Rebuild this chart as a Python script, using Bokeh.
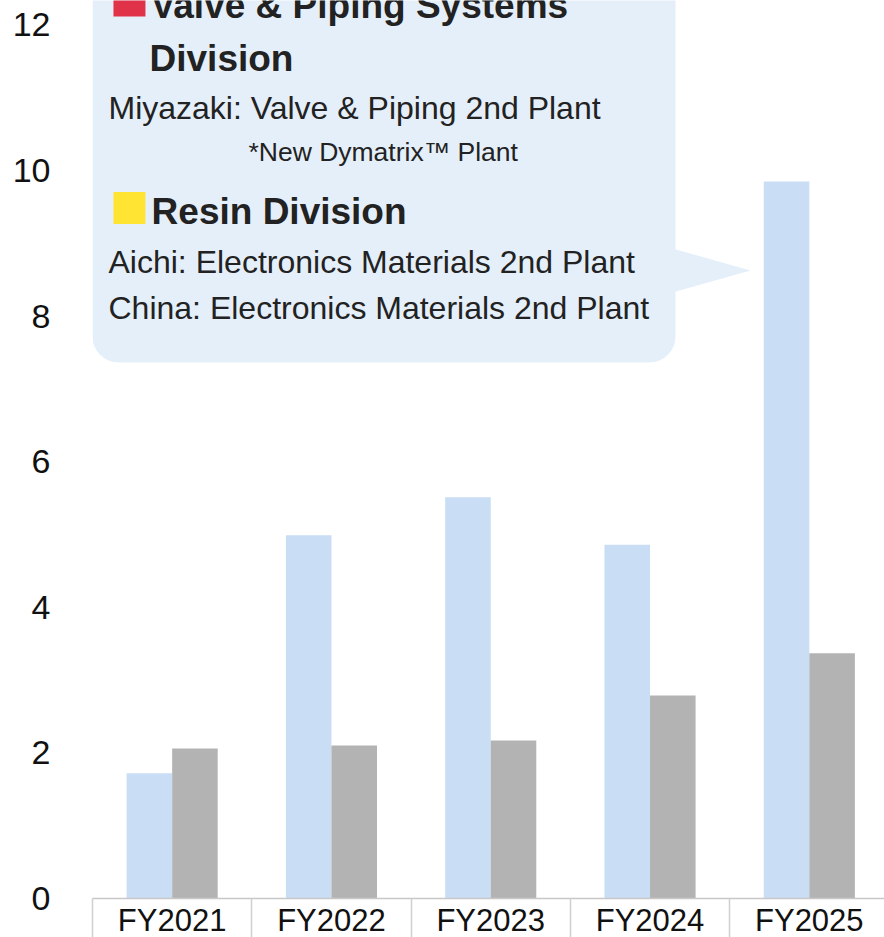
from bokeh.plotting import figure
from bokeh.models import ColumnDataSource, FixedTicker, BoxAnnotation, Label, Range1d
from bokeh.transform import dodge
from bokeh.embed import file_html
from bokeh.resources import INLINE

# Fiscal years and the two bar series (billion yen)
fiscal_years = ["FY2021", "FY2022", "FY2023", "FY2024", "FY2025"]
capital_investment = [1.72, 4.99, 5.51, 4.86, 9.85]
depreciation = [2.06, 2.10, 2.17, 2.79, 3.37]
y_ticks = [0, 2, 4, 6, 8, 10, 12]

FONT = "Liberation Sans"
TEXT = "#222222"
BLUE = "#c9ddf5"
GRAY = "#b3b3b3"
CALLOUT = "#e5effa"

x_centers = [i + 0.5 for i in range(len(fiscal_years))]
src = ColumnDataSource(dict(x=x_centers, year=fiscal_years,
                            invest=capital_investment, dep=depreciation))

p = figure(frame_width=792, frame_height=898,
           x_range=Range1d(0, 4.972), y_range=Range1d(0, 12.335),
           output_backend="svg", toolbar_location=None,
           min_border_left=92, min_border_right=0,
           min_border_top=0, min_border_bottom=39)
p.outline_line_color = None
p.grid.visible = False
p.background_fill_color = "white"
p.border_fill_color = "white"

# bars
p.vbar(x=dodge("x", -0.143), top="invest", width=0.286, source=src,
       fill_color=BLUE, line_color=None)
p.vbar(x=dodge("x", 0.143), top="dep", width=0.286, source=src,
       fill_color=GRAY, line_color=None)

# y axis: labels only
p.yaxis.ticker = FixedTicker(ticks=y_ticks)
p.yaxis.axis_line_color = None
p.yaxis.major_tick_line_color = None
p.yaxis.minor_tick_line_color = None
p.yaxis.major_tick_out = 0
p.yaxis.major_label_standoff = 42
p.yaxis.major_label_text_font = FONT
p.yaxis.major_label_text_font_size = "34px"
p.yaxis.major_label_text_color = "#111111"

# x axis: labels centred in each slot, separators at slot boundaries
p.xaxis.ticker = FixedTicker(ticks=x_centers,
                             minor_ticks=list(range(len(fiscal_years) + 1)))
p.xaxis.major_label_overrides = {x: y for x, y in zip(x_centers, fiscal_years)}
p.xaxis.axis_line_color = "#c8c8c8"
p.xaxis.axis_line_width = 1.5
p.xaxis.major_tick_line_color = None
p.xaxis.major_tick_out = 0
p.xaxis.major_tick_in = 0
p.xaxis.minor_tick_line_color = "#d0d0d0"
p.xaxis.minor_tick_line_width = 1.5
p.xaxis.minor_tick_out = 39
p.xaxis.minor_tick_in = 0
p.xaxis.major_label_standoff = -35
p.xaxis.major_label_text_font = FONT
p.xaxis.major_label_text_font_size = "31px"
p.xaxis.major_label_text_color = "#111111"

# callout bubble
box = BoxAnnotation(left=0, right=3.66, bottom=7.363, top=14.5,
                    fill_color=CALLOUT, fill_alpha=1.0, line_color=None,
                    border_radius=26, level="underlay")
p.add_layout(box)
p.patch(x=[3.64, 4.131, 3.64], y=[8.929, 8.626, 8.324],
        fill_color=CALLOUT, line_color=None)

# division colour keys
p.scatter(x=[0.232, 0.232], y=[12.335, 9.485], marker="square", size=32,
          fill_color=["#e0334a", "#ffe433"], line_color=None)


def note(x, y, text, size, bold=False):
    p.add_layout(Label(x=x, y=y, text=text, text_font=FONT,
                       text_font_size=size, text_color=TEXT,
                       text_font_style="bold" if bold else "normal",
                       text_baseline="alphabetic", text_align="left"))


note(0.365, 12.267, "Valve & Piping Systems", "37px", bold=True)
note(0.358, 11.539, "Division", "37px", bold=True)
note(0.1004, 10.852, "Miyazaki: Valve & Piping 2nd Plant", "32px")
note(0.979, 10.260, "*New Dymatrix\u2122 Plant", "26.5px")
note(0.371, 9.437, "Resin Division", "37px", bold=True)
note(0.1004, 8.743, "Aichi: Electronics Materials 2nd Plant", "32px")
note(0.1004, 8.105, "China: Electronics Materials 2nd Plant", "32px")

open("out.html", "w").write(file_html(p, INLINE))
